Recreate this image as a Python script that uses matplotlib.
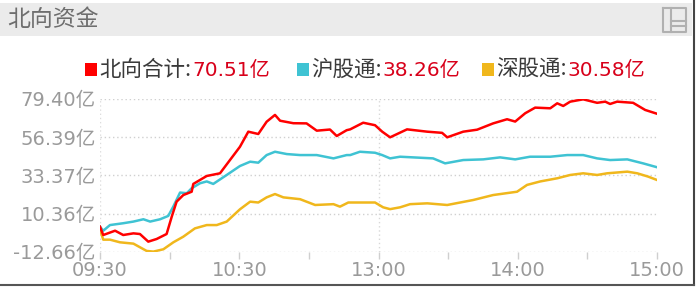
import matplotlib
matplotlib.use("Agg")
import matplotlib.pyplot as plt
from matplotlib.patches import Rectangle
from matplotlib.lines import Line2D

plt.rcParams["font.family"] = ["Noto Sans CJK SC", "DejaVu Sans"]
NUM_FONT = ["DejaVu Sans", "Noto Sans CJK SC"]

W, H = 700, 288

# minutes since 09:30 (trading minutes, lunch break removed) and values in 亿
red_t = [0, 1.4, 6.5, 10, 14.4, 17.2, 20.8, 24.4, 28.7, 30.9, 33, 35.9, 39.5, 40.2, 46,
         51.7, 56, 60.3, 63.9, 68.2, 71.8, 75.4, 77.6, 83.3, 89, 93.4, 99.1, 102, 106.3,
         107.8, 113.4, 118.5, 121.6, 125, 132.3, 141, 147.4, 149.6, 156.5, 162.5, 169.4,
         175.4, 178.9, 183.2, 187.5, 194, 197, 199.6, 202.6, 208.2, 214.2, 217.7, 219.8,
         222.8, 229.7, 234.9, 240]
red_v = [2.4, -2.6, 0.0, -2.6, -1.6, -2.0, -6.6, -5.0, -2.0, 8.4, 17.5, 21.5, 23.5, 28.2, 33,
         34.6, 42.6, 50.6, 59.7, 58.3, 65.7, 69.8, 66.3, 64.8, 64.7, 60.3, 61.0, 57.1, 60.6,
         61.1, 65.1, 63.6, 59.7, 56.3, 61.1, 59.7, 59.0, 56.3, 59.7, 60.9, 64.7,
         67.2, 65.8, 70.8, 74.2, 73.8, 76.8, 75.2, 77.8, 79.2, 77.1, 77.8, 76.4,
         77.8, 77.1, 72.8, 70.51]

sh_t = [0, 1.4, 4.3, 10, 14.4, 18.7, 21.6, 25.9, 29.4, 31.6, 34.5, 37.4, 39.5, 43.1, 46,
        48.8, 54.6, 60.3, 64.7, 68.2, 71.8, 75.4, 80.5, 86.2, 93.4, 100.6, 106.3, 107.8,
        112, 118.5, 121.6, 125, 129.3, 143.5, 148.7, 156.5, 165.1, 172.4, 178.9, 185.3,
        194, 201.3, 208.2, 214.2, 219.8, 227.2, 234, 240]
sh_v = [2.4, 0.0, 3.4, 4.5, 5.5, 6.9, 5.5, 6.9, 8.9, 14.6, 23.0, 22.6, 25.6, 28.6, 29.7,
        28.2, 33.6, 39.0, 41.6, 41.0, 45.6, 47.6, 46.2, 45.6, 45.6, 43.6, 45.6, 45.6,
        47.6, 47.0, 45.6, 43.6, 44.6, 43.6, 40.6, 42.6, 43.0, 44.2, 43.0, 44.6,
        44.6, 45.6, 45.6, 43.6, 42.6, 43.0, 40.6, 38.26]

sz_t = [0, 1.4, 4.3, 8.6, 14.4, 20.1, 23, 27.3, 31.6, 35.9, 40.9, 46, 50.3, 54.6, 60.3,
        64.7, 68.2, 71.8, 75.4, 79, 86.2, 92.7, 100.6, 103.4, 107, 118.5, 122, 125, 129.3,
        133.6, 141, 149.6, 155.2, 160.8, 169.4, 179.7, 184, 189.7, 197, 202.6, 208.2,
        214.2, 218.5, 227.2, 231.5, 236.2, 240]
sz_v = [0.6, -5.4, -5.4, -7.0, -7.8, -12.2, -12.6, -11.2, -7.0, -3.6, 1.4, 3.4, 3.4, 5.5, 12.9,
        17.5, 17.0, 20.1, 22.1, 20.1, 19.0, 15.5, 16.0, 14.5, 17.0, 17.0, 14.1, 13.0, 14.1,
        16.0, 16.5, 15.5, 17.0, 18.5, 21.5, 23.5, 27.6, 29.7, 31.6, 33.6, 34.6,
        33.6, 34.6, 35.6, 34.6, 32.6, 30.58]

y_ticks = [-12.66, 10.36, 33.37, 56.39, 79.40]
x_ticks = [0, 60, 120, 180, 240]
x_labels = ["09:30", "10:30", "13:00", "14:00", "15:00"]
x_minor = [30, 90, 150, 210]

legend_names = ["北向合计:", "沪股通:", "深股通:"]
legend_values = ["70.51亿", "38.26亿", "30.58亿"]
legend_x = [85, 297, 482]  # left edge of each colour square, px

RED, CYAN, GOLD = "#ff0000", "#3fc3d3", "#f0b71c"


def fx(px):
    return px / W


def fy(py):
    return 1 - py / H


fig = plt.figure(figsize=(7, 2.88), dpi=100)

# title bar
fig.patches.append(Rectangle((0, fy(36)), fx(692), fy(3) - fy(36), transform=fig.transFigure,
                             facecolor="#ebebeb", edgecolor="none", zorder=0))
fig.text(fx(7), fy(19.5), "北向资金", fontsize=16.5, color="#6e6e6e", va="center", ha="left")

# small layout icon at the right of the title bar
ic = "#b0b0b0"
for xs, ys in [([663, 686, 686, 663, 663], [8, 8, 32, 32, 8]),
               ([671, 671], [8, 32]), ([671, 686], [21, 21]), ([671, 686], [26, 26])]:
    fig.add_artist(Line2D([fx(x) for x in xs], [fy(y) for y in ys], color=ic, lw=1.5))

# frame lines on the right and bottom
fig.add_artist(Line2D([fx(694), fx(694)], [fy(0), fy(285)], color="#444444", lw=1.5))
fig.add_artist(Line2D([fx(0), fx(694)], [fy(284.5), fy(284.5)], color="#555555", lw=1.5))

ax = fig.add_axes([fx(100), fy(251.7), fx(657) - fx(100), fy(99) - fy(251.7)])
ax.plot(sz_t, sz_v, color=GOLD, lw=1.8, zorder=3)
ax.plot(sh_t, sh_v, color=CYAN, lw=1.8, zorder=4)
ax.plot(red_t, red_v, color=RED, lw=1.8, zorder=5)

ax.set_xlim(0, 240)
ax.set_ylim(-12.66, 79.40)
ax.set_yticks(y_ticks)
ax.set_yticklabels([f"{v:.2f}亿" for v in y_ticks], family=NUM_FONT)
ax.set_xticks(x_ticks)
ax.set_xticklabels(x_labels, family=NUM_FONT)
ax.set_xticks(x_minor, minor=True)

for s in ax.spines.values():
    s.set_visible(False)
for v in y_ticks:
    ax.axhline(v, color="#d0d0d0", lw=1, ls=(0, (1, 2)), zorder=1)
ax.axvline(0, color="#dddddd", lw=1, ls=(0, (1, 2)), zorder=1)
ax.axvline(120, color="#d8d8d8", lw=1, ls=(0, (1, 2)), zorder=1)

ax.tick_params(axis="y", length=0, pad=3, labelsize=14, labelcolor="#9a9a9a")
ax.tick_params(axis="x", which="both", length=5, width=1, color="#cfcfcf", direction="out",
               pad=2, labelsize=14, labelcolor="#9a9a9a")

# legend: colour square, dark label, red value
renderer = fig.canvas.get_renderer()
for x0, color, name, value in zip(legend_x, [RED, CYAN, GOLD], legend_names, legend_values):
    fig.patches.append(Rectangle((fx(x0), fy(76)), fx(12), fy(63) - fy(76),
                                 transform=fig.transFigure, facecolor=color,
                                 edgecolor="none"))
    t = fig.text(fx(x0 + 14), fy(70), name, fontsize=15.5, color="#3a3a3a",
                 va="center", ha="left")
    x = x0 + 14 + t.get_window_extent(renderer).width + 1
    fig.text(fx(x), fy(70), value, fontsize=14.5, color="#d8001a", family=NUM_FONT,
             va="center", ha="left")

fig.savefig("out.png", dpi=100)
